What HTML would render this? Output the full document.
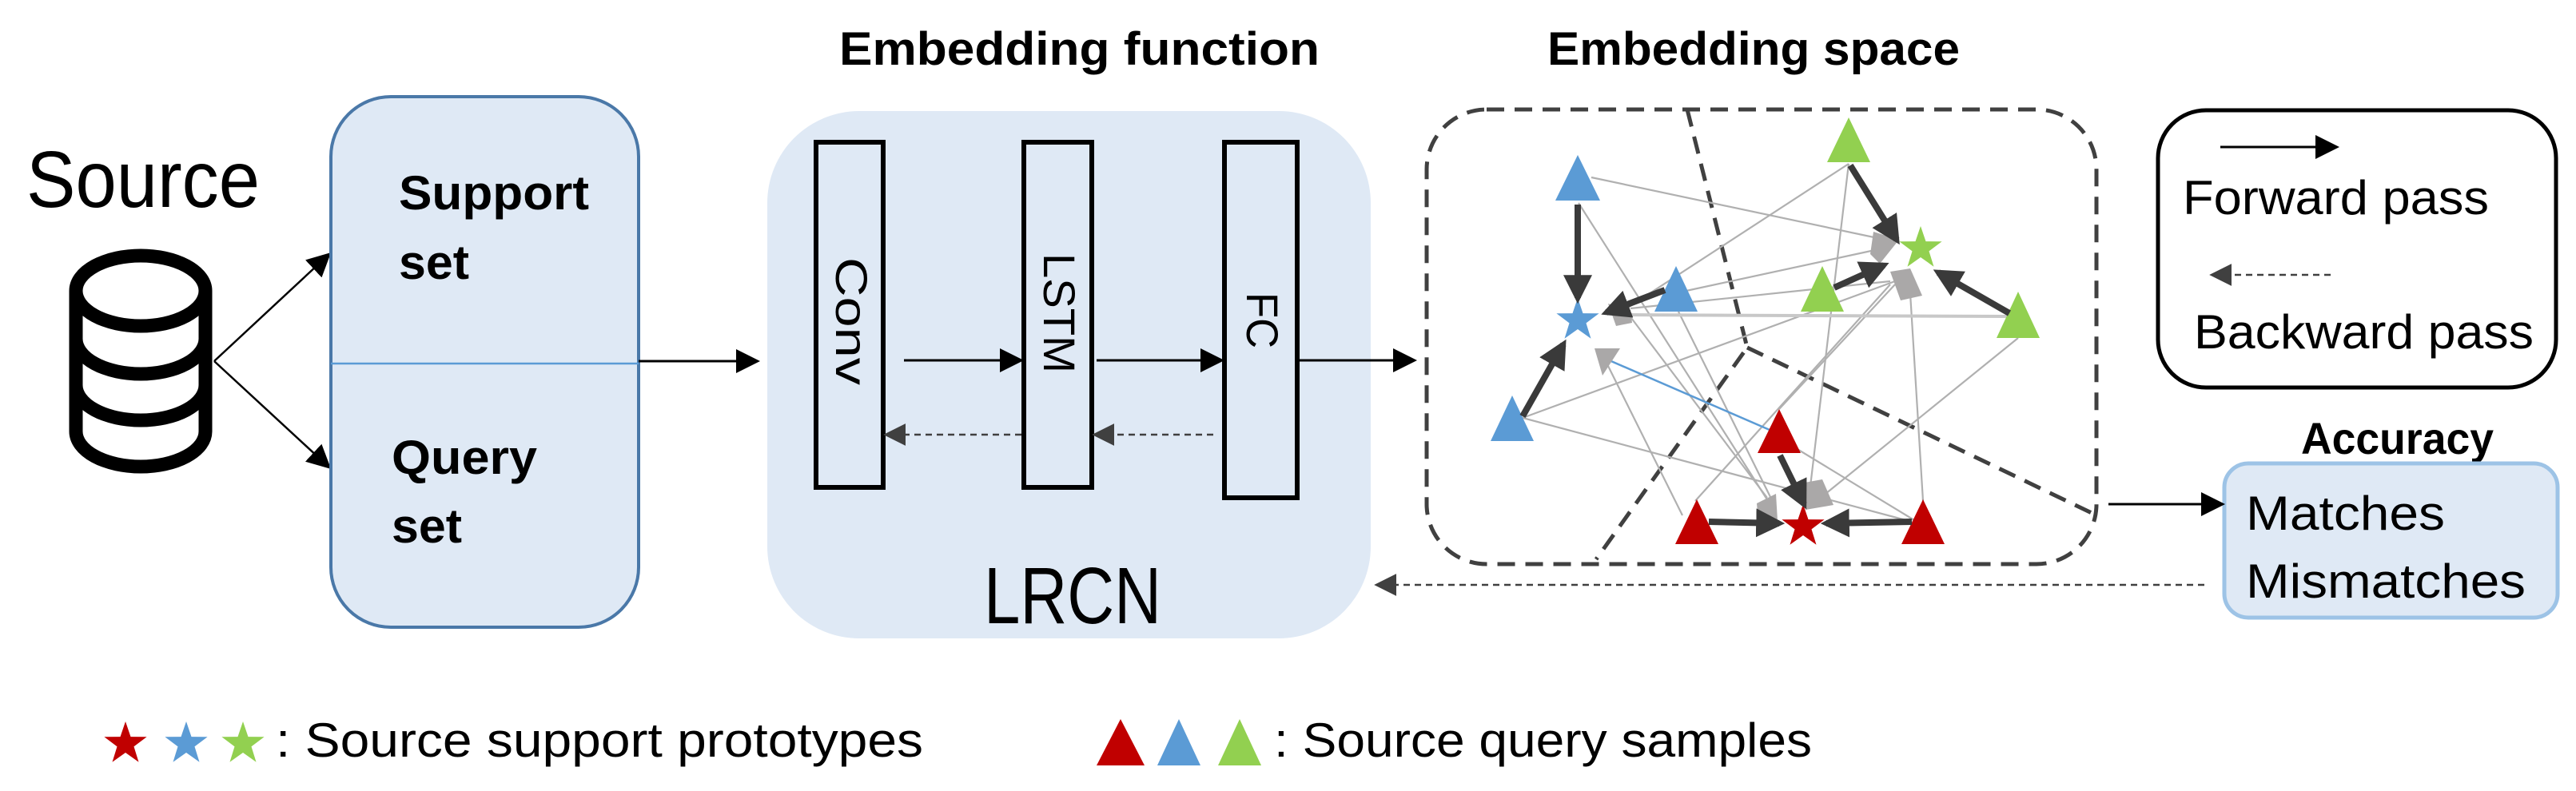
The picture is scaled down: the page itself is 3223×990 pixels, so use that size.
<!DOCTYPE html>
<html><head><meta charset="utf-8"><style>html,body{margin:0;padding:0;background:#fff}svg{display:block}text{font-family:"Liberation Sans",sans-serif}</style></head>
<body>
<svg width="3223" height="990" viewBox="0 0 3223 990" xmlns="http://www.w3.org/2000/svg">
<defs>
<marker id="ahb" viewBox="0 0 10 10" refX="9" refY="5" markerWidth="30" markerHeight="30" orient="auto" markerUnits="userSpaceOnUse"><path d="M0,0 L10,5 L0,10 z" fill="#000"/></marker>
<marker id="ahg" viewBox="0 0 10 10" refX="9" refY="5" markerWidth="28" markerHeight="28" orient="auto" markerUnits="userSpaceOnUse"><path d="M0,0 L10,5 L0,10 z" fill="#404040"/></marker>
<marker id="ahd" viewBox="0 0 10 10" refX="8" refY="5" markerWidth="36" markerHeight="36" orient="auto" markerUnits="userSpaceOnUse"><path d="M0,0 L10,5 L0,10 z" fill="#3a3a3a"/></marker>
<polygon id="star" points="0,-28 6.5,-8.9 26.6,-8.7 10.5,3.4 16.5,22.7 0,11 -16.5,22.7 -10.5,3.4 -26.6,-8.7 -6.5,-8.9"/>
</defs>

<!-- Source -->
<text x="33" y="259" font-size="100" textLength="292" lengthAdjust="spacingAndGlyphs">Source</text>
<g fill="none" stroke="#000" stroke-width="17">
<ellipse cx="176" cy="364" rx="81" ry="44"/>
<path d="M95,364 V540 A81,44 0 0 0 257,540 V364"/>
<path d="M95,424 A81,44 0 0 0 257,424"/>
<path d="M95,482 A81,44 0 0 0 257,482"/>
</g>
<line x1="268" y1="452" x2="412" y2="318" stroke="#000" stroke-width="2.5" marker-end="url(#ahb)"/>
<line x1="268" y1="452" x2="412" y2="585" stroke="#000" stroke-width="2.5" marker-end="url(#ahb)"/>

<!-- support/query -->
<rect x="414" y="121" width="385" height="664" rx="75" fill="#dfe9f5" stroke="#4a78a8" stroke-width="4"/>
<line x1="414" y1="455" x2="799" y2="455" stroke="#5b9bd5" stroke-width="2.5"/>
<g font-weight="bold" font-size="60">
<text x="499" y="262" textLength="238" lengthAdjust="spacingAndGlyphs">Support</text>
<text x="499" y="349" textLength="88" lengthAdjust="spacingAndGlyphs">set</text>
<text x="490" y="593" textLength="182" lengthAdjust="spacingAndGlyphs">Query</text>
<text x="490" y="679" textLength="88" lengthAdjust="spacingAndGlyphs">set</text>
</g>
<line x1="799" y1="452" x2="948" y2="452" stroke="#000" stroke-width="3" marker-end="url(#ahb)"/>

<!-- LRCN -->
<text x="1050" y="81" font-size="58" font-weight="bold" textLength="601" lengthAdjust="spacingAndGlyphs">Embedding function</text>
<rect x="960" y="139" width="755" height="660" rx="115" fill="#dfe9f5"/>
<g fill="none" stroke="#000" stroke-width="6">
<rect x="1021" y="178" width="84" height="432"/>
<rect x="1281" y="178" width="85" height="432"/>
<rect x="1532" y="178" width="91" height="445"/>
</g>
<g font-size="56">
<text transform="translate(1046,402) rotate(90)" text-anchor="middle" textLength="160" lengthAdjust="spacingAndGlyphs">Conv</text>
<text transform="translate(1306,392) rotate(90)" text-anchor="middle" textLength="150" lengthAdjust="spacingAndGlyphs">LSTM</text>
<text transform="translate(1560,401) rotate(90)" text-anchor="middle" textLength="70" lengthAdjust="spacingAndGlyphs">FC</text>
</g>
<line x1="1131" y1="451" x2="1278" y2="451" stroke="#000" stroke-width="3" marker-end="url(#ahb)"/>
<line x1="1372" y1="451" x2="1529" y2="451" stroke="#000" stroke-width="3" marker-end="url(#ahb)"/>
<line x1="1623" y1="451" x2="1770" y2="451" stroke="#000" stroke-width="3" marker-end="url(#ahb)"/>
<line x1="1278" y1="544" x2="1108" y2="544" stroke="#404040" stroke-width="2.5" stroke-dasharray="8,6" marker-end="url(#ahg)"/>
<line x1="1518" y1="544" x2="1369" y2="544" stroke="#404040" stroke-width="2.5" stroke-dasharray="8,6" marker-end="url(#ahg)"/>
<text x="1231" y="780" font-size="100" textLength="222" lengthAdjust="spacingAndGlyphs">LRCN</text>

<!-- Embedding space -->
<text x="1936" y="81" font-size="58" font-weight="bold" textLength="516" lengthAdjust="spacingAndGlyphs">Embedding space</text>
<rect x="1785" y="137" width="838" height="569" rx="75" fill="none" stroke="#404040" stroke-width="5" stroke-dasharray="22,13"/>
<g fill="none" stroke="#404040" stroke-width="5" stroke-dasharray="22,13">
<polyline points="2111,137 2186,435 1997,700"/>
<line x1="2186" y1="435" x2="2617" y2="642"/>
</g>

<g stroke="#b0b0b0" stroke-width="2.2" fill="none">
<line x1="1991" y1="222" x2="2354" y2="299"/>
<line x1="1975" y1="254" x2="2214" y2="630"/>
<line x1="2313" y1="205" x2="2029" y2="390"/>
<line x1="2313" y1="205" x2="2262" y2="634"/>
<line x1="2105" y1="365" x2="2355" y2="311"/>
<line x1="2100" y1="390" x2="2219" y2="630"/>
<line x1="2040" y1="386" x2="2365" y2="352"/>
<line x1="1905" y1="523" x2="2371" y2="352"/>
<line x1="1905" y1="523" x2="2392" y2="653"/>
<line x1="2219" y1="544" x2="2395" y2="651"/>
<line x1="2008" y1="450" x2="2105" y2="645"/>
<line x1="2121" y1="627" x2="2365" y2="356"/>
<line x1="2226" y1="512" x2="2371" y2="356"/>
<line x1="2525" y1="423" x2="2273" y2="627"/>
<line x1="2390" y1="367" x2="2406" y2="627"/>
<line x1="2035" y1="390" x2="2211" y2="623"/>
<line x1="2018" y1="394" x2="2517" y2="396" stroke="#c8c8c8" stroke-width="4"/>
</g>
<line x1="2002" y1="446" x2="2214" y2="538" stroke="#5b9bd5" stroke-width="2.5"/>

<g fill="#aaa8a8">
<polygon points="2344,290 2376,300 2352,330 2340,318"/>
<polygon points="2365,340 2390,336 2405,370 2378,376"/>
<polygon points="2012,380 2040,388 2042,404 2022,408"/>
<polygon points="1995,436 2027,436 2005,470"/>
<polygon points="2198,630 2222,618 2224,652 2200,652"/>
<polygon points="2258,604 2280,600 2294,632 2259,638"/>
</g>

<g fill="#5b9bd5">
<polygon points="1974,194 2002,251 1946,251"/>
<polygon points="2097,333 2124,390 2070,390"/>
<polygon points="1892,495 1919,552 1865,552"/>
<use href="#star" transform="translate(1974,401)"/>
</g>
<g fill="#92d050">
<polygon points="2313,147 2340,203 2286,203"/>
<polygon points="2280,333 2307,390 2253,390"/>
<polygon points="2525,365 2552,423 2498,423"/>
<use href="#star" transform="translate(2403,311)"/>
</g>
<g fill="#c00000">
<polygon points="2226,512 2253,567 2199,567"/>
<polygon points="2123,625 2150,681 2096,681"/>
<polygon points="2406,625 2433,681 2379,681"/>
<use href="#star" transform="translate(2256,659)"/>
</g>

<g stroke="#3a3a3a" stroke-width="8" marker-end="url(#ahd)">
<line x1="1974" y1="256" x2="1974" y2="373"/>
<line x1="2083" y1="363" x2="2010" y2="391"/>
<line x1="1905" y1="521" x2="1956" y2="431"/>
<line x1="2315" y1="207" x2="2373" y2="300"/>
<line x1="2295" y1="360" x2="2357" y2="332"/>
<line x1="2514" y1="392" x2="2425" y2="341"/>
<line x1="2227" y1="570" x2="2257" y2="631"/>
<line x1="2138" y1="653" x2="2226" y2="655"/>
<line x1="2392" y1="653" x2="2285" y2="655"/>
</g>

<rect x="2700" y="138" width="498" height="347" rx="60" fill="none" stroke="#000" stroke-width="5"/>
<line x1="2778" y1="184" x2="2924" y2="184" stroke="#000" stroke-width="3" marker-end="url(#ahb)"/>
<text x="2731" y="268" font-size="60" textLength="383" lengthAdjust="spacingAndGlyphs">Forward pass</text>
<line x1="2916" y1="344" x2="2767" y2="344" stroke="#404040" stroke-width="2.5" stroke-dasharray="8,6" marker-end="url(#ahg)"/>
<text x="2745" y="436" font-size="60" textLength="425" lengthAdjust="spacingAndGlyphs">Backward pass</text>

<text x="2879" y="568" font-size="56" font-weight="bold" textLength="241" lengthAdjust="spacingAndGlyphs">Accuracy</text>
<rect x="2783" y="580" width="417" height="193" rx="30" fill="#dfe9f5" stroke="#9dc3e6" stroke-width="5"/>
<text x="2810" y="663" font-size="60" textLength="249" lengthAdjust="spacingAndGlyphs">Matches</text>
<text x="2810" y="748" font-size="60" textLength="350" lengthAdjust="spacingAndGlyphs">Mismatches</text>
<line x1="2638" y1="631" x2="2781" y2="631" stroke="#000" stroke-width="3" marker-end="url(#ahb)"/>
<line x1="2758" y1="732" x2="1722" y2="732" stroke="#404040" stroke-width="2.5" stroke-dasharray="8,6" marker-end="url(#ahg)"/>

<use href="#star" fill="#c00000" transform="translate(157,931)"/>
<use href="#star" fill="#5b9bd5" transform="translate(233,931)"/>
<use href="#star" fill="#92d050" transform="translate(304,931)"/>
<text x="345" y="947" font-size="60" textLength="810" lengthAdjust="spacingAndGlyphs">: Source support prototypes</text>
<polygon points="1402,900 1432,958 1372,958" fill="#c00000"/>
<polygon points="1475,900 1502,958 1448,958" fill="#5b9bd5"/>
<polygon points="1551,900 1578,958 1524,958" fill="#92d050"/>
<text x="1594" y="947" font-size="60" textLength="673" lengthAdjust="spacingAndGlyphs">: Source query samples</text>
</svg>
</body></html>
